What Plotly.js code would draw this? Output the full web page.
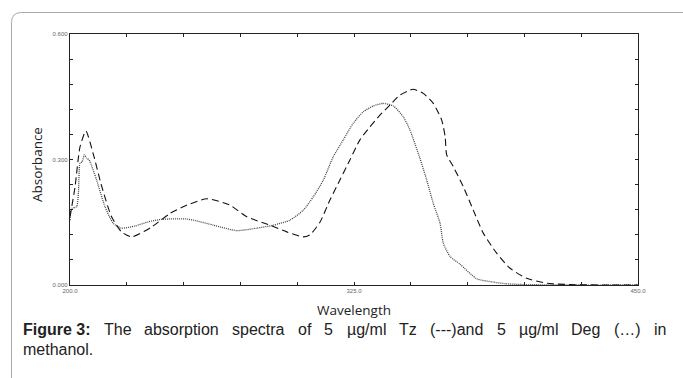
<!DOCTYPE html>
<html>
<head>
<meta charset="utf-8">
<script src="https://cdn.plot.ly/plotly-3.0.1.min.js"></script>
<style>
html,body{margin:0;padding:0;background:#fff;}
#chart{width:683px;height:378px;}
</style>
</head>
<body>
<div id="chart"></div>
<script>
// Tz (dashed) spectrum
var tzWavelength = [200, 202.2, 204.4, 207.0, 210.1, 214.0, 218.3, 222.7, 227.2, 236.0, 244.0, 250.6, 260.2, 270.4, 277.8, 288.0, 295.4, 302.7, 305.6, 310.0, 314.4, 318.8, 323.2, 327.6, 332.0, 336.4, 340.8, 345.2, 349.6, 351.1, 355.5, 359.9, 363.6, 365.1, 365.8, 368.7, 373.1, 377.5, 381.9, 387.8, 393.7, 401.0, 410.0, 420.0, 435.0, 450.0];
var tzAbsorbance = [0.163, 0.234, 0.330, 0.368, 0.316, 0.235, 0.163, 0.127, 0.115, 0.139, 0.171, 0.189, 0.206, 0.191, 0.163, 0.143, 0.127, 0.115, 0.120, 0.150, 0.203, 0.251, 0.299, 0.347, 0.378, 0.406, 0.430, 0.454, 0.466, 0.468, 0.458, 0.434, 0.394, 0.355, 0.311, 0.283, 0.235, 0.179, 0.124, 0.076, 0.040, 0.016, 0.004, 0.001, 0.000, 0.000];

// Deg (dotted) spectrum
var degWavelength = [200, 200.7, 202.9, 203.7, 204.4, 205.4, 206.3, 207.3, 208.4, 211.7, 215.4, 219.1, 222.7, 228.6, 234.5, 240.4, 250.6, 254.3, 263.1, 273.4, 282.2, 289.5, 296.8, 302.7, 307.1, 311.5, 315.9, 320.3, 324.7, 329.1, 333.5, 337.9, 342.3, 346.7, 349.6, 354.0, 357.0, 359.9, 362.9, 364.3, 367.3, 371.6, 379.0, 386.3, 392.0, 400.0, 420.0, 450.0];
var degAbsorbance = [0.155, 0.183, 0.187, 0.219, 0.291, 0.295, 0.311, 0.303, 0.299, 0.251, 0.187, 0.147, 0.136, 0.141, 0.151, 0.157, 0.158, 0.155, 0.143, 0.130, 0.136, 0.143, 0.155, 0.179, 0.211, 0.251, 0.307, 0.347, 0.387, 0.414, 0.428, 0.434, 0.428, 0.402, 0.371, 0.303, 0.251, 0.195, 0.147, 0.100, 0.068, 0.050, 0.015, 0.007, 0.003, 0.001, 0.000, 0.000];

// Axis ticks and labels
var xTickVals = [200, 225, 250, 275, 300, 325, 350, 375, 400, 425, 450];
var xTickText = ["200.0", "", "", "", "", "325.0", "", "", "", "", "450.0"];
var yTickVals = [0, 0.06, 0.12, 0.18, 0.24, 0.30, 0.36, 0.42, 0.48, 0.54, 0.60];
var yTickText = ["0.000", "", "", "", "", "0.300", "", "", "", "", "0.600"];

var xTitle = "Wavelength";
var yTitle = "Absorbance";
var captionBold = "Figure 3:";
var captionLine1 = "The absorption spectra of 5 µg/ml Tz (---)and 5 µg/ml Deg (…) in";
var captionLine2 = "methanol.";

// plot area in pixels
var L = 70, R = 638, T = 34, B = 285;
function PX(px){ return (px - L) / (R - L); }
function PY(py){ return (B - py) / (B - T); }

var capFamily = 'Liberation Sans, Arial, sans-serif';
var capSize = 16;
var capColor = '#222';

// justified first caption line: measure words, spread gaps between x=21 and x=664
var canvas = document.createElement('canvas');
var ctx = canvas.getContext('2d');
var words = [{t: captionBold, b: true}].concat(captionLine1.split(' ').map(function(w){ return {t: w, b: false}; }));
var widths = words.map(function(w){
  ctx.font = (w.b ? 'bold ' : '') + capSize + 'px "Liberation Sans", Arial, sans-serif';
  return ctx.measureText(w.t).width;
});
var sumW = widths.reduce(function(a, b){ return a + b; }, 0);
var lineStart = 21, lineEnd = 664;
var gap = (lineEnd - lineStart - sumW) / (words.length - 1);

var annotations = [];
var cx = lineStart;
words.forEach(function(w, i){
  annotations.push({xref: 'paper', yref: 'paper', x: PX(cx), y: PY(329), xanchor: 'left', yanchor: 'middle',
    showarrow: false, align: 'left', text: w.b ? '<b>' + w.t + '</b>' : w.t,
    font: {family: capFamily, size: capSize, color: capColor}});
  cx += widths[i] + gap;
});
annotations.push({xref: 'paper', yref: 'paper', x: PX(21), y: PY(349), xanchor: 'left', yanchor: 'middle',
  showarrow: false, align: 'left', text: captionLine2,
  font: {family: capFamily, size: capSize, color: capColor}});
// y-axis title, positioned as in the reference
annotations.push({xref: 'paper', yref: 'paper', x: PX(37), y: PY(165), xanchor: 'center', yanchor: 'middle',
  showarrow: false, textangle: -90, text: yTitle,
  font: {family: 'Open Sans, sans-serif', size: 13.5, color: '#222'}});

var traces = [
  {x: degWavelength, y: degAbsorbance, type: 'scatter', mode: 'lines',
   line: {color: '#444', width: 1.3, dash: '1px,1px', shape: 'spline', smoothing: 0.6},
   name: 'Deg', hoverinfo: 'skip'},
  {x: tzWavelength, y: tzAbsorbance, type: 'scatter', mode: 'lines',
   line: {color: '#111', width: 1.1, dash: '7px,4px', shape: 'spline', smoothing: 0.6},
   name: 'Tz', hoverinfo: 'skip'}
];

var axisCommon = {
  showgrid: false, zeroline: false, showline: true, linecolor: '#222', linewidth: 1.2,
  mirror: 'ticks', ticks: 'inside', ticklen: 3, tickwidth: 1, tickcolor: '#222',
  tickmode: 'array', tickfont: {family: 'Liberation Sans, Arial, sans-serif', size: 6, color: '#666'}
};

var layout = {
  width: 683, height: 378,
  margin: {l: L, r: 683 - R, t: T, b: 378 - B, pad: 0},
  paper_bgcolor: '#fff', plot_bgcolor: '#fff',
  showlegend: false,
  xaxis: Object.assign({}, axisCommon, {
    range: [200, 450], tickvals: xTickVals, ticktext: xTickText,
    title: {text: xTitle, font: {family: 'Open Sans, sans-serif', size: 13.5, color: '#222'}, standoff: 12}
  }),
  yaxis: Object.assign({}, axisCommon, {
    range: [0, 0.6], tickvals: yTickVals, ticktext: yTickText
  }),
  shapes: [
    {type: 'path', xref: 'paper', yref: 'paper',
     path: 'M ' + PX(11.5) + ',' + PY(400) + ' L ' + PX(11.5) + ',' + PY(22.5) +
           ' Q ' + PX(11.5) + ',' + PY(12.5) + ' ' + PX(21.5) + ',' + PY(12.5) +
           ' L ' + PX(700) + ',' + PY(12.5),
     line: {color: '#aaa', width: 1}}
  ],
  annotations: annotations
};

Plotly.newPlot('chart', traces, layout, {staticPlot: true, displayModeBar: false});
</script>
</body>
</html>
